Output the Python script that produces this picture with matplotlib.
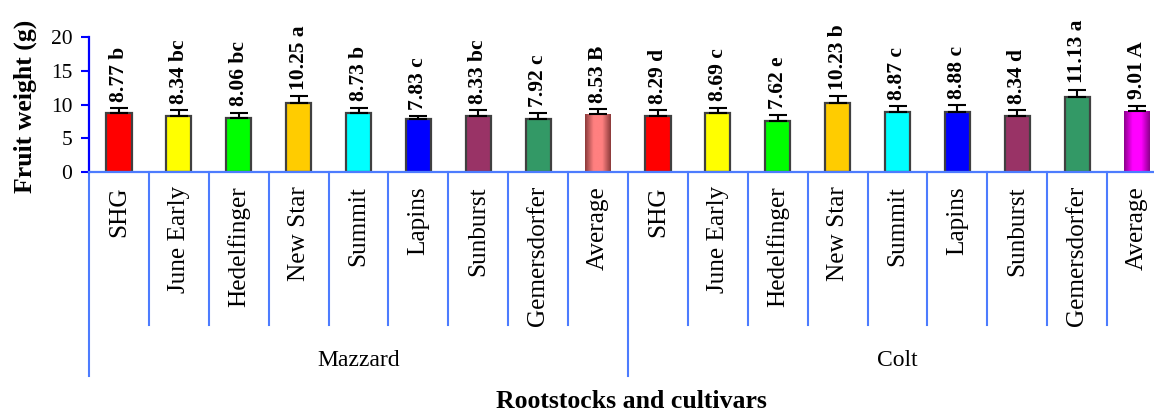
import numpy as np
import matplotlib
matplotlib.use("Agg")
import matplotlib.pyplot as plt
from matplotlib.colors import LinearSegmentedColormap

plt.rcParams['font.family'] = ['Liberation Serif', 'DejaVu Serif']

# ---- data ----
cultivars = ["SHG", "June Early", "Hedelfinger", "New Star", "Summit",
             "Lapins", "Sunburst", "Gemersdorfer", "Average"]
rootstocks = ["Mazzard", "Colt"]

mazzard_weight = [8.77, 8.34, 8.06, 10.25, 8.73, 7.83, 8.33, 7.92, 8.53]
colt_weight = [8.29, 8.69, 7.62, 10.23, 8.87, 8.88, 8.34, 11.13, 9.01]

mazzard_err = [0.74, 0.84, 0.74, 0.99, 0.79, 0.44, 0.84, 0.79, 0.79]
colt_err = [0.84, 0.84, 0.84, 1.04, 0.94, 1.04, 0.79, 1.09, 0.84]

mazzard_letters = ["b", "bc", "bc", "a", "b", "c", "bc", "c", "B"]
colt_letters = ["d", "c", "e", "b", "c", "c", "d", "a", "A"]

yticks = [0, 5, 10, 15, 20]

# ---- styling ----
cultivar_colors = ["#FF0000", "#FFFF00", "#00FF00", "#FFCC00", "#00FFFF",
                   "#0000FF", "#993366", "#339966"]
average_gradients = [("#8A3A3A", "#FF8080"), ("#8A008A", "#FF00FF")]
sep_color = "#4D7CFE"
spine_color = "#0000FF"

W, H = 1154, 412
fig = plt.figure(figsize=(W / 100, H / 100), dpi=100)
left_px, right_px, zero_px, top_px = 89, 1167, 172, 37
ax = fig.add_axes([left_px / W, (H - zero_px) / H,
                   (right_px - left_px) / W, (zero_px - top_px) / H])

values = mazzard_weight + colt_weight
errors = mazzard_err + colt_err
letters = mazzard_letters + colt_letters
labels = cultivars + cultivars
n = len(values)
x = np.arange(n)

colors = []
for grp in range(len(rootstocks)):
    colors += cultivar_colors + [average_gradients[grp][1]]

bars = ax.bar(x, values, width=0.42, color=colors, edgecolor="#404040",
              linewidth=1.6, zorder=2)

# shaded fill for the two "Average" bars
per = len(cultivars)
for grp in range(len(rootstocks)):
    idx = grp * per + per - 1
    b = bars[idx]
    dark, light = average_gradients[grp]
    cmap = LinearSegmentedColormap.from_list("g", [dark, light, light, dark])
    grad = np.linspace(0, 1, 256).reshape(1, -1)
    x0, w = b.get_x(), b.get_width()
    im = ax.imshow(grad, cmap=cmap, aspect="auto",
                   extent=[x0, x0 + w, 0, b.get_height()], zorder=2.5)
    im.set_clip_path(b)
    b.set_edgecolor("none")

ax.errorbar(x, values, yerr=[np.zeros(n), errors], fmt="none",
            ecolor="black", elinewidth=1.5, capsize=6.5, capthick=1.5,
            zorder=3)

for xi, v, e, lt in zip(x, values, errors, letters):
    ax.annotate(f"{v:.2f} {lt}", (xi, v + e), xytext=(0, 4.5),
                textcoords="offset points", rotation=90, ha="center",
                va="bottom", fontsize=15.5, fontweight="bold")

ax.set_xlim(-0.5, n - 0.5)
ax.set_ylim(0, 20)
ax.set_yticks(yticks)
ax.set_yticklabels([str(t) for t in yticks], fontsize=15.5)
ax.tick_params(axis="y", direction="out", length=6, width=1.5,
               color=spine_color, pad=6)
ax.set_xticks([])
for s in ["top", "right"]:
    ax.spines[s].set_visible(False)
ax.spines["left"].set_color(spine_color)
ax.spines["left"].set_linewidth(1.6)
ax.spines["bottom"].set_color(sep_color)
ax.spines["bottom"].set_linewidth(1.6)
ax.patch.set_alpha(0)

# category separators and labels under the axis
span = zero_px - top_px
short_y = -(325 - zero_px) / span
long_y = -(376 - zero_px) / span
trans = ax.get_xaxis_transform()
for k in range(n + 1):
    xb = k - 0.5
    yb = long_y if k % per == 0 else short_y
    ax.plot([xb, xb], [0, yb], transform=trans, color=sep_color, lw=1.5,
            clip_on=False, zorder=1)

label_y = -(186 - zero_px) / span
for xi, lab in zip(x, labels):
    ax.text(xi, label_y, lab, transform=trans, rotation=90, ha="center",
            va="top", fontsize=18.2)

group_y = -(361 - zero_px) / span
for grp, name in enumerate(rootstocks):
    ax.text(grp * per + (per - 1) / 2, group_y, name, transform=trans,
            ha="center", va="center", fontsize=17)

fig.text(631 / W, (H - 401) / H, "Rootstocks and cultivars", ha="center",
         va="center", fontsize=18.5, fontweight="bold")
fig.text(25 / W, (H - 106) / H, "Fruit weight (g)", rotation=90,
         ha="center", va="center", fontsize=18.5, fontweight="bold")

fig.savefig("out.png", dpi=100)
